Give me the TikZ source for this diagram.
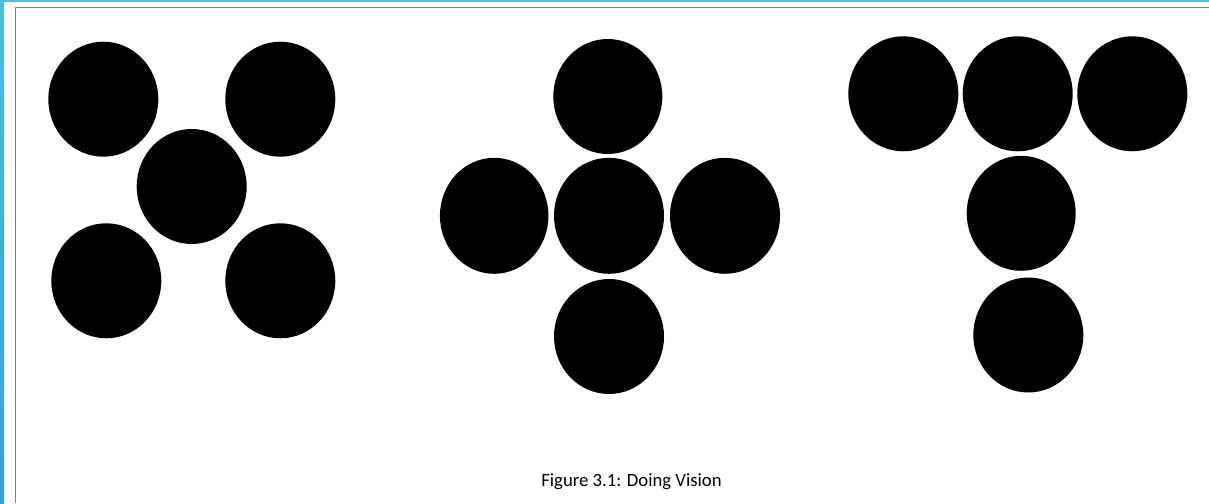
\documentclass[tikz,border=0pt]{standalone}
\usepackage{fontspec}
\setmainfont{Carlito}
\usetikzlibrary{shapes.geometric}
\definecolor{bluetop}{HTML}{4DBEE0}
\definecolor{blueleft}{HTML}{3C9FD0}
\definecolor{frame}{HTML}{7F7F7F}
\tikzset{
  dot/.style={ellipse, fill=black, draw=none, inner sep=0pt, minimum width=110pt, minimum height=115pt},
}
\begin{document}
\begin{tikzpicture}[x=1pt,y=1pt]
\useasboundingbox (0,0) rectangle (1209,503);
\fill[white] (0,0) rectangle (1209,503);
% frame lines
\fill[bluetop] (0,500.8) rectangle (1209,503);
\shade[top color=bluetop, bottom color=blueleft] (0,0) rectangle (4.2,503);
\draw[frame, line width=1.4pt] (15.6,0) -- (15.6,495.3) -- (1209,495.3);
% group 1: X
\node[dot] (a1) at (103.3,403.8) {};
\node[dot] (a2) at (280.3,403.8) {};
\node[dot] (a3) at (191.7,316.5) {};
\node[dot] (a4) at (106.3,222.2) {};
\node[dot] (a5) at (280.3,222.2) {};
% group 2: plus
\node[dot, minimum width=109pt] (b1) at (607.8,406.5) {};
\node[dot, minimum width=108.5pt, minimum height=116pt] (b2) at (494.2,287.2) {};
\node[dot, minimum height=116pt] (b3) at (609,287.2) {};
\node[dot, minimum height=116pt] (b4) at (725,287.2) {};
\node[dot] (b5) at (609,166.5) {};
% group 3: T
\node[dot] (c1) at (903.3,409.2) {};
\node[dot] (c2) at (1017.7,409.2) {};
\node[dot] (c3) at (1132.3,409.2) {};
\node[dot, minimum width=109pt] (c4) at (1021.2,289.7) {};
\node[dot] (c5) at (1028.3,168) {};
% caption
\node[font=\fontsize{18.7}{22}\selectfont, anchor=base, inner sep=0pt] (cap) at (631.5,16.7) {Figure 3.1: Doing Vision};
\end{tikzpicture}
\end{document}
